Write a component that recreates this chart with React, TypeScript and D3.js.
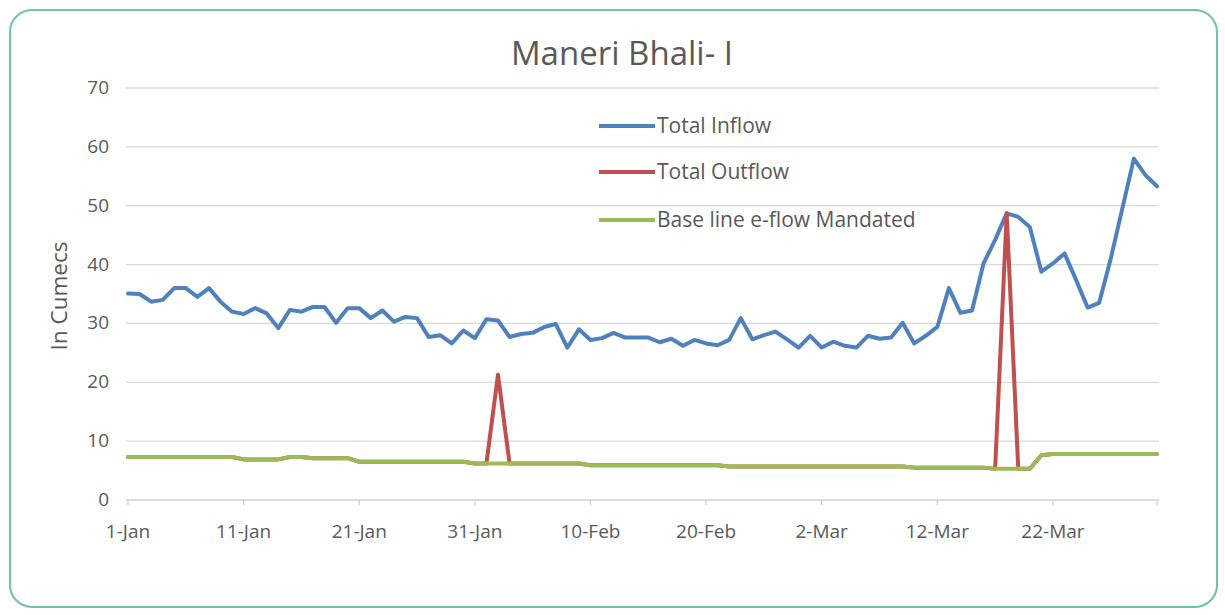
import React from "react";
import * as d3 from "d3";

const startDate = new Date(2015, 0, 1);
const tickLabels = ['1-Jan', '11-Jan', '21-Jan', '31-Jan', '10-Feb', '20-Feb', '2-Mar', '12-Mar', '22-Mar'];
const yTicks = [0, 10, 20, 30, 40, 50, 60, 70];

const seriesNames = ['Total Inflow', 'Total Outflow', 'Base line e-flow Mandated'];
const seriesColors = ['#4F81BD', '#C0504D', '#9BBB59'];

// daily values, 1-Jan .. 31-Mar
const totalInflow = [
    35.1, 35.0, 33.7, 34.0, 36.0, 36.0, 34.5, 36.0, 33.7, 32.0,
    31.6, 32.6, 31.7, 29.2, 32.3, 32.0, 32.8, 32.8, 30.1, 32.6,
    32.6, 30.9, 32.2, 30.3, 31.1, 30.9, 27.7, 28.0, 26.6, 28.8,
    27.5, 30.7, 30.5, 27.7, 28.2, 28.4, 29.4, 29.9, 25.9, 29.0,
    27.2, 27.5, 28.4, 27.6, 27.6, 27.6, 26.8, 27.4, 26.2, 27.2,
    26.6, 26.3, 27.2, 30.9, 27.3, 28.0, 28.6, 27.3, 25.9, 27.9,
    25.9, 26.9, 26.2, 25.9, 27.9, 27.4, 27.6, 30.1, 26.6, 27.9,
    29.4, 36.0, 31.8, 32.2, 40.2, 44.2, 48.7, 48.1, 46.4, 38.8,
    40.2, 41.9, 37.4, 32.7, 33.5, 41.0, 49.5, 58.0, 55.2, 53.3
];

const totalOutflow = [
    7.3, 7.3, 7.3, 7.3, 7.3, 7.3, 7.3, 7.3, 7.3, 7.3,
    6.9, 6.9, 6.9, 6.9, 7.3, 7.3, 7.1, 7.1, 7.1, 7.1,
    6.5, 6.5, 6.5, 6.5, 6.5, 6.5, 6.5, 6.5, 6.5, 6.5,
    6.2, 6.2, 21.3, 6.2, 6.2, 6.2, 6.2, 6.2, 6.2, 6.2,
    5.9, 5.9, 5.9, 5.9, 5.9, 5.9, 5.9, 5.9, 5.9, 5.9,
    5.9, 5.9, 5.7, 5.7, 5.7, 5.7, 5.7, 5.7, 5.7, 5.7,
    5.7, 5.7, 5.7, 5.7, 5.7, 5.7, 5.7, 5.7, 5.5, 5.5,
    5.5, 5.5, 5.5, 5.5, 5.5, 5.3, 48.7, 5.3, 5.3, 7.6,
    7.8, 7.8, 7.8, 7.8, 7.8, 7.8, 7.8, 7.8, 7.8, 7.8
];

const eflowMandated = [
    7.3, 7.3, 7.3, 7.3, 7.3, 7.3, 7.3, 7.3, 7.3, 7.3,
    6.9, 6.9, 6.9, 6.9, 7.3, 7.3, 7.1, 7.1, 7.1, 7.1,
    6.5, 6.5, 6.5, 6.5, 6.5, 6.5, 6.5, 6.5, 6.5, 6.5,
    6.2, 6.2, 6.2, 6.2, 6.2, 6.2, 6.2, 6.2, 6.2, 6.2,
    5.9, 5.9, 5.9, 5.9, 5.9, 5.9, 5.9, 5.9, 5.9, 5.9,
    5.9, 5.9, 5.7, 5.7, 5.7, 5.7, 5.7, 5.7, 5.7, 5.7,
    5.7, 5.7, 5.7, 5.7, 5.7, 5.7, 5.7, 5.7, 5.5, 5.5,
    5.5, 5.5, 5.5, 5.5, 5.5, 5.3, 5.3, 5.3, 5.3, 7.6,
    7.8, 7.8, 7.8, 7.8, 7.8, 7.8, 7.8, 7.8, 7.8, 7.8
];

class ManeriChart extends React.Component<{}, {}> {
    myRef: React.RefObject<HTMLDivElement | null>;

    width : number = 1225;
    height: number = 615;
    left  : number = 128;
    right : number = 1157;
    top   : number = 88;
    bottom: number = 500;

    constructor(props: {}) {
        super(props);
        this.myRef = React.createRef();
    }

    componentDidMount() {
        const root = d3.select(this.myRef.current);
        root.selectAll('*').remove();

        const font = '"Open Sans", "Noto Sans", sans-serif';
        const textColor = '#595959';

        const svg = root.append('svg')
            .attr('width', this.width)
            .attr('height', this.height)
            .style('display', 'block')
            .style('font-family', font);

        // chart area frame
        svg.append('rect')
            .attr('x', 10)
            .attr('y', 10)
            .attr('width', this.width - 18)
            .attr('height', this.height - 18)
            .attr('rx', 22)
            .attr('fill', '#ffffff')
            .attr('stroke', '#6cc3a0')
            .attr('stroke-width', 2);

        const dates = totalInflow.map((_, i) => d3.timeDay.offset(startDate, i));
        const parse = d3.timeParse('%d-%b-%Y');
        const tickDates = tickLabels.map(l => parse(`${l}-2015`) as Date);

        const x = d3.scaleTime()
            .domain([dates[0], dates[dates.length - 1]])
            .range([this.left, this.right]);
        const y = d3.scaleLinear()
            .domain([0, 70])
            .range([this.bottom, this.top]);

        // gridlines
        svg.append('g')
            .selectAll('line')
            .data(yTicks.filter(d => d > 0))
            .enter()
            .append('line')
            .attr('x1', this.left - 2)
            .attr('x2', this.right + 2)
            .attr('y1', d => y(d))
            .attr('y2', d => y(d))
            .attr('stroke', '#d9d9d9')
            .attr('stroke-width', 1.3);

        // x axis
        svg.append('line')
            .attr('x1', this.left - 2)
            .attr('x2', this.right + 2)
            .attr('y1', this.bottom)
            .attr('y2', this.bottom)
            .attr('stroke', '#d0d0d0')
            .attr('stroke-width', 1.3);

        svg.append('g')
            .selectAll('line')
            .data([...tickDates, dates[dates.length - 1]])
            .enter()
            .append('line')
            .attr('x1', d => x(d))
            .attr('x2', d => x(d))
            .attr('y1', this.bottom)
            .attr('y2', this.bottom + 5)
            .attr('stroke', '#d0d0d0')
            .attr('stroke-width', 1.3);

        svg.append('g')
            .selectAll('text')
            .data(tickDates)
            .enter()
            .append('text')
            .attr('x', d => x(d))
            .attr('y', this.bottom + 38)
            .attr('text-anchor', 'middle')
            .attr('font-size', 19)
            .attr('fill', textColor)
            .text((d, i) => tickLabels[i]);

        // y tick labels
        svg.append('g')
            .selectAll('text')
            .data(yTicks)
            .enter()
            .append('text')
            .attr('x', 109)
            .attr('y', d => y(d) + 6)
            .attr('text-anchor', 'end')
            .attr('font-size', 19)
            .attr('fill', textColor)
            .text(d => d);

        // y axis title
        svg.append('text')
            .attr('transform', `translate(67, ${(this.top + this.bottom) / 2 + 2}) rotate(-90)`)
            .attr('text-anchor', 'middle')
            .attr('font-size', 22.5)
            .attr('fill', textColor)
            .text('In Cumecs');

        // title
        svg.append('text')
            .attr('x', 622)
            .attr('y', 65)
            .attr('text-anchor', 'middle')
            .attr('font-size', 33)
            .attr('fill', textColor)
            .text('Maneri Bhali- I');

        // series
        const line = d3.line<number>()
            .x((d, i) => x(dates[i]))
            .y(d => y(d));

        const series = [totalInflow, totalOutflow, eflowMandated];
        svg.append('g')
            .selectAll('path')
            .data(series)
            .enter()
            .append('path')
            .attr('d', d => line(d))
            .attr('fill', 'none')
            .attr('stroke', (d, i) => seriesColors[i])
            .attr('stroke-width', 4)
            .attr('stroke-linejoin', 'round')
            .attr('stroke-linecap', 'round');

        // legend
        const legendY = [126, 172, 220];
        const lg = svg.append('g');
        lg.selectAll('line')
            .data(seriesNames)
            .enter()
            .append('line')
            .attr('x1', 599)
            .attr('x2', 655)
            .attr('y1', (d, i) => legendY[i])
            .attr('y2', (d, i) => legendY[i])
            .attr('stroke', (d, i) => seriesColors[i])
            .attr('stroke-width', 4);

        lg.selectAll('text')
            .data(seriesNames)
            .enter()
            .append('text')
            .attr('x', 657)
            .attr('y', (d, i) => legendY[i] + 7)
            .attr('font-size', 21)
            .attr('fill', textColor)
            .text(d => d);
    }

    render() {
        return <div ref={this.myRef} style={{ position: 'absolute', left: 0, top: 0 }} />;
    }
}

export default function App() {
    return <ManeriChart />;
}
